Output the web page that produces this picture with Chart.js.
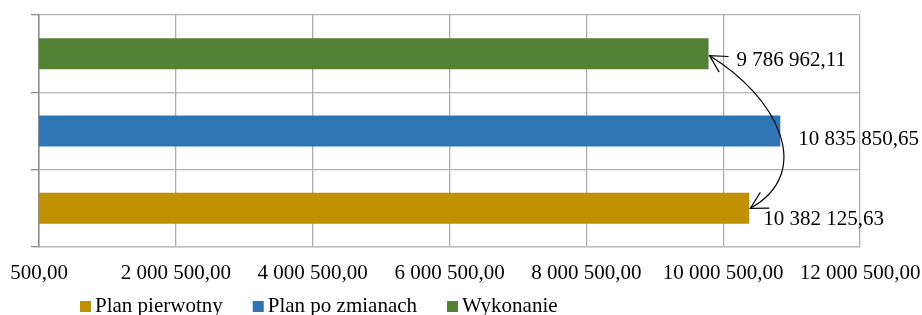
<!DOCTYPE html>
<html>
<head>
<meta charset="utf-8">
<script src="https://cdn.jsdelivr.net/npm/chart.js@4/dist/chart.umd.min.js"></script>
<style>
  html, body { margin: 0; padding: 0; background: #fff; }
  #wrap { width: 922px; height: 315px; }
</style>
</head>
<body>
<div id="wrap"><canvas id="graphic"></canvas></div>
<script>
const categories = ["Wykonanie", "Plan po zmianach", "Plan pierwotny"];
const seriesNames = ["Plan pierwotny", "Plan po zmianach", "Wykonanie"];
const planPierwotny = [null, null, 10382125.63];
const planPoZmianach = [null, 10835850.65, null];
const wykonanie = [9786962.11, null, null];
const xMin = 500;
const xMax = 12000500;
const xStep = 2000000;

const colors = ["#BF9000", "#2E75B6", "#548235"];
const fontFamily = "'Liberation Serif', 'Times New Roman', serif";
Chart.defaults.font.family = fontFamily;
Chart.defaults.font.size = 21;
Chart.defaults.color = "#000";

function formatPl(v, decimals) {
  const parts = v.toFixed(decimals).split(".");
  const intPart = parts[0].replace(/\B(?=(\d{3})+(?!\d))/g, " ");
  return intPart + "," + parts[1];
}

// value labels next to bar ends (dx, dy tweaks per row)
const labelShift = [[28, 7], [18, 8], [14, 11]];
const valueLabels = {
  id: "valueLabels",
  afterDatasetsDraw(chart) {
    const ctx = chart.ctx;
    ctx.save();
    ctx.font = "21px " + fontFamily;
    ctx.fillStyle = "#000";
    ctx.textBaseline = "middle";
    chart.data.datasets.forEach((ds, di) => {
      const meta = chart.getDatasetMeta(di);
      ds.data.forEach((v, i) => {
        if (v == null) return;
        const el = meta.data[i];
        const s = labelShift[i];
        ctx.fillText(formatPl(v, 2), el.x + s[0], el.y + s[1]);
      });
    });
    ctx.restore();
  }
};

function arrowHead(ctx, x, y, fromX, fromY) {
  const ang = Math.atan2(y - fromY, x - fromX);
  const len = 19, spread = 0.5;
  ctx.beginPath();
  ctx.moveTo(x - len * Math.cos(ang - spread), y - len * Math.sin(ang - spread));
  ctx.lineTo(x, y);
  ctx.lineTo(x - len * Math.cos(ang + spread), y - len * Math.sin(ang + spread));
  ctx.stroke();
}

// curved double arrow between the Wykonanie and Plan pierwotny bar ends
const curvedArrow = {
  id: "curvedArrow",
  afterDatasetsDraw(chart) {
    const top = chart.getDatasetMeta(2).data[0];
    const bot = chart.getDatasetMeta(0).data[2];
    const p0 = { x: top.x + 1, y: top.y + 2 };
    const p3 = { x: bot.x + 1, y: bot.y };
    const c1 = { x: p0.x + 66, y: p0.y + 40 };
    const c2 = { x: p3.x + 66, y: p3.y - 37 };
    const ctx = chart.ctx;
    ctx.save();
    ctx.strokeStyle = "#000";
    ctx.lineWidth = 1.2;
    ctx.beginPath();
    ctx.moveTo(p0.x, p0.y);
    ctx.bezierCurveTo(c1.x, c1.y, c2.x, c2.y, p3.x, p3.y);
    ctx.stroke();
    arrowHead(ctx, p0.x, p0.y, c1.x, c1.y);
    arrowHead(ctx, p3.x, p3.y, c2.x, c2.y);
    ctx.restore();
  }
};

// legend drawn by hand: small square, short gap, text
const bottomLegend = {
  id: "bottomLegend",
  afterDraw(chart) {
    const ctx = chart.ctx;
    ctx.save();
    ctx.font = "21px " + fontFamily;
    ctx.textBaseline = "alphabetic";
    let x = 80;
    const baseY = 312;
    chart.data.datasets.forEach(ds => {
      ctx.fillStyle = ds.backgroundColor;
      ctx.fillRect(x, baseY - 11, 11, 11);
      ctx.fillStyle = "#000";
      ctx.fillText(ds.label, x + 15, baseY);
      x += 15 + ctx.measureText(ds.label).width + 30;
    });
    ctx.restore();
  }
};

const ctx = document.getElementById("graphic").getContext("2d");
new Chart(ctx, {
  type: "bar",
  data: {
    labels: categories,
    datasets: [
      { label: seriesNames[0], data: planPierwotny, backgroundColor: colors[0] },
      { label: seriesNames[1], data: planPoZmianach, backgroundColor: colors[1] },
      { label: seriesNames[2], data: wykonanie, backgroundColor: colors[2] }
    ]
  },
  options: {
    indexAxis: "y",
    responsive: true,
    maintainAspectRatio: false,
    animation: false,
    skipNull: true,
    datasets: { bar: { barPercentage: 0.4, categoryPercentage: 1.0 } },
    layout: { padding: { left: 0, right: 0, top: 15, bottom: 0 } },
    plugins: {
      tooltip: { enabled: false },
      legend: { display: false }
    },
    scales: {
      x: {
        type: "linear",
        min: xMin,
        max: xMax,
        ticks: {
          stepSize: xStep,
          color: "#000",
          padding: 1.6,
          maxRotation: 0,
          font: { family: fontFamily, size: 21 },
          callback: v => formatPl(v, 2)
        },
        grid: { color: "#adadad", lineWidth: 1.3, drawTicks: true, tickLength: 12.5, tickColor: "rgba(0,0,0,0)" },
        border: { color: "#bfbfbf", width: 1.5 },
        afterFit: s => { s.height = 68; }
      },
      y: {
        offset: true,
        ticks: { display: false },
        grid: { offset: true, color: "#b4b4b4", lineWidth: 1.3, tickColor: "#8c8c8c", tickLength: 8 },
        border: { color: "#8c8c8c", width: 1.5 },
        afterFit: s => { s.width = 39; }
      }
    }
  },
  plugins: [valueLabels, curvedArrow, bottomLegend]
});
</script>
</body>
</html>
